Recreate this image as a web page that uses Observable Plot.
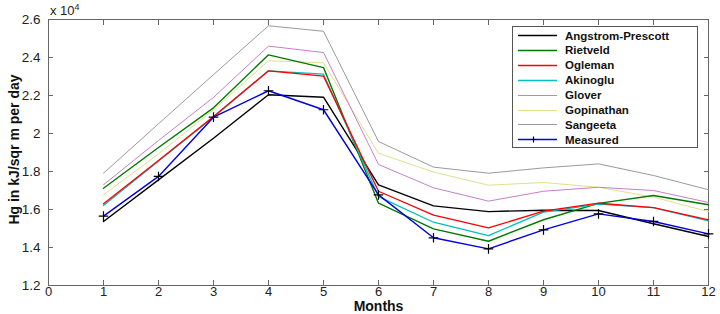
<!DOCTYPE html>
<html>
<head>
<meta charset="utf-8">
<script src="https://cdn.jsdelivr.net/npm/d3@7"></script>
<script src="https://cdn.jsdelivr.net/npm/@observablehq/plot@0.6"></script>
<style>
  html, body { margin: 0; padding: 0; background: #fff; }
  #wrap { position: relative; width: 720px; height: 314px; font-family: "Liberation Sans", Arial, sans-serif; }
  #wrap svg { font-family: "Liberation Sans", Arial, sans-serif; }
  #legend { position: absolute; left: 512px; top: 26px; width: 184px; height: 120px; border: 1px solid #555; background: #fff; }
  #legend .row { position: absolute; left: 0; height: 15px; display: flex; align-items: center; }
  #legend .row span { font-weight: bold; font-size: 11.5px; color: #111; margin-left: 4px; }
  #exp { position: absolute; left: 50px; top: 2px; font-size: 13px; color: #222; }
  #exp sup { font-size: 9px; }
</style>
</head>
<body>
<div id="wrap">
  <div id="chart"></div>
  <div id="exp">x 10<sup>4</sup></div>
  <div id="legend"></div>
</div>
<script>
const months = [1, 2, 3, 4, 5, 6, 7, 8, 9, 10, 11, 12];
const seriesNames = ["Angstrom-Prescott", "Rietveld", "Ogleman", "Akinoglu", "Glover", "Gopinathan", "Sangeeta", "Measured"];
const seriesColors = ["#000000", "#007a00", "#ff0000", "#00bfbf", "#c77fc9", "#e0e08a", "#9a9a9a", "#0000e0"];
const seriesWidths = [1.4, 1.4, 1.3, 1.3, 1.0, 1.0, 1.0, 1.4];

// values in units of 10^4 kJ/sqr m per day
const angstrom   = [1.537, 1.756, 1.975, 2.204, 2.191, 1.730, 1.619, 1.589, 1.596, 1.595, 1.525, 1.458];
const rietveld   = [1.712, 1.926, 2.135, 2.414, 2.347, 1.633, 1.498, 1.433, 1.546, 1.632, 1.674, 1.625];
const ogleman    = [1.630, 1.858, 2.090, 2.330, 2.302, 1.696, 1.570, 1.503, 1.591, 1.633, 1.610, 1.546];
const akinoglu   = [1.621, 1.855, 2.085, 2.330, 2.312, 1.668, 1.533, 1.463, 1.586, 1.628, 1.610, 1.540];
const glover     = [1.730, 1.963, 2.190, 2.460, 2.426, 1.837, 1.714, 1.644, 1.696, 1.717, 1.700, 1.637];
const gopinathan = [1.677, 1.893, 2.125, 2.383, 2.372, 1.896, 1.797, 1.728, 1.742, 1.717, 1.665, 1.589];
const sangeeta   = [1.791, 2.051, 2.310, 2.567, 2.538, 1.958, 1.823, 1.791, 1.819, 1.840, 1.779, 1.704];
const measured   = [1.565, 1.774, 2.086, 2.225, 2.125, 1.677, 1.451, 1.393, 1.493, 1.577, 1.537, 1.472];

const xTicks = [0, 1, 2, 3, 4, 5, 6, 7, 8, 9, 10, 11, 12];
const yTicks = [1.2, 1.4, 1.6, 1.8, 2, 2.2, 2.4, 2.6];
const xLabel = "Months";
const yLabel = "Hg in kJ/sqr m per day";

const seriesValues = [angstrom, rietveld, ogleman, akinoglu, glover, gopinathan, sangeeta, measured];
const rows = [];
seriesNames.forEach((name, i) => {
  seriesValues[i].forEach((v, j) => rows.push({series: name, month: months[j], value: v}));
});

const drawOrder = ["Sangeeta", "Gopinathan", "Glover", "Angstrom-Prescott", "Rietveld", "Akinoglu", "Ogleman", "Measured"];

const lineMarks = drawOrder.map(name => {
  const i = seriesNames.indexOf(name);
  return Plot.line(rows.filter(d => d.series === name), {
    x: "month", y: "value", stroke: seriesColors[i], strokeWidth: seriesWidths[i]
  });
});

const chart = Plot.plot({
  width: 720,
  height: 314,
  marginLeft: 48,
  marginRight: 12,
  marginTop: 19,
  marginBottom: 29,
  style: {fontSize: "13px", color: "#222", background: "#fff"},
  x: {domain: [0, 12], label: null},
  y: {domain: [1.2, 2.6], label: null},
  marks: [
    Plot.frame({stroke: "#666"}),
    ...lineMarks,
    Plot.dot(rows.filter(d => d.series === "Measured"), {x: "month", y: "value", symbol: "plus", r: 3.2, stroke: "#000", strokeWidth: 1.2}),
    // inward ticks on all four sides
    Plot.axisX(xTicks, {anchor: "bottom", tickSize: -5, tickFormat: () => "", stroke: "#666", label: null}),
    Plot.axisX(xTicks, {anchor: "top", tickSize: -5, tickFormat: () => "", stroke: "#666", label: null}),
    Plot.axisY(yTicks, {anchor: "left", tickSize: -5, tickFormat: () => "", stroke: "#666", label: null}),
    Plot.axisY(yTicks, {anchor: "right", tickSize: -5, tickFormat: () => "", stroke: "#666", label: null}),
    // tick labels
    Plot.axisX(xTicks, {anchor: "bottom", tickSize: 0, tickPadding: 1, tickFormat: d => String(d), label: null, fontSize: 13}),
    Plot.axisY(yTicks, {anchor: "left", tickSize: 0, tickPadding: 8, tickFormat: d => String(d), label: null, fontSize: 13.5}),
    // axis titles
    Plot.text([xLabel], {text: d => d, frameAnchor: "bottom", lineAnchor: "middle", dy: 21.5, fontSize: 14, fontWeight: "bold", fill: "#111"}),
    Plot.text([yLabel], {text: d => d, frameAnchor: "left", textAnchor: "middle", lineAnchor: "middle", dx: -34, dy: -3, rotate: -90, fontSize: 14, fontWeight: "bold", fill: "#111"})
  ]
});
document.getElementById("chart").appendChild(chart);

// legend
const legend = document.getElementById("legend");
seriesNames.forEach((name, i) => {
  const row = document.createElement("div");
  row.className = "row";
  row.style.top = (1 + i * 14.9) + "px";
  const svg = d3.create("svg").attr("width", 48).attr("height", 15);
  svg.append("line").attr("x1", 5).attr("x2", 44).attr("y1", 7.5).attr("y2", 7.5)
    .attr("stroke", seriesColors[i]).attr("stroke-width", seriesWidths[i]);
  if (name === "Measured") {
    svg.append("path").attr("d", "M20.5,4.5V10.5M17.5,7.5H23.5").attr("stroke", "#000").attr("stroke-width", 1.2);
  }
  row.appendChild(svg.node());
  const span = document.createElement("span");
  span.textContent = name;
  row.appendChild(span);
  legend.appendChild(row);
});
</script>
</body>
</html>
